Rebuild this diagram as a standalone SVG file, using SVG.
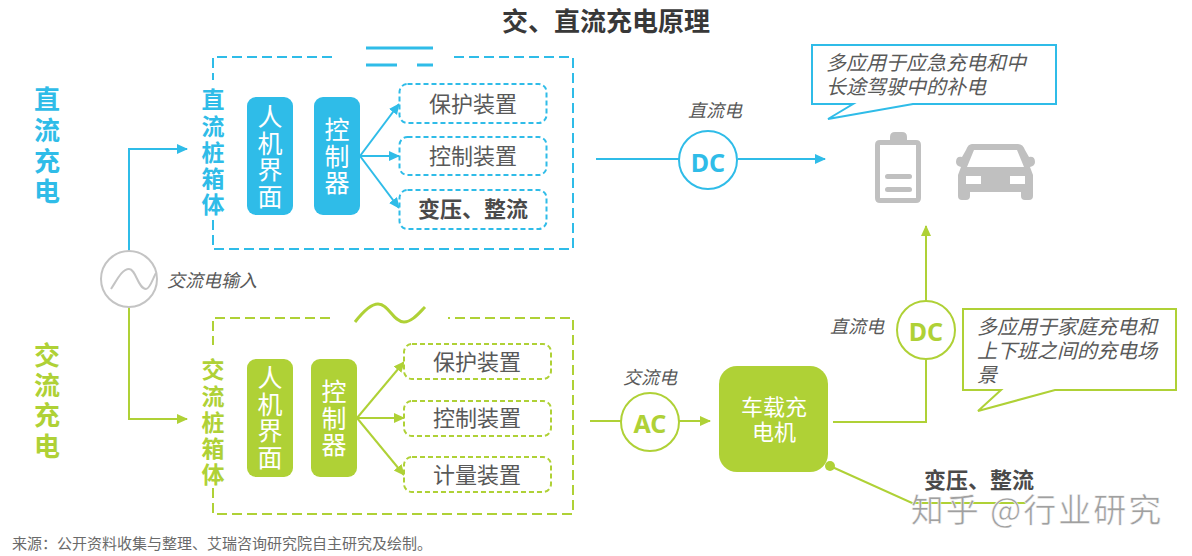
<svg xmlns="http://www.w3.org/2000/svg" width="1192" height="556" viewBox="0 0 1192 556">
<style>
text{font-family:"Noto Sans CJK SC","Noto Sans",sans-serif;dominant-baseline:central;text-anchor:middle}
.b{fill:#2fbce8}.g{fill:#afd136}
.side{font-size:26px;font-weight:700}
.sub{font-size:23px;font-weight:700}
.nt{font-size:25px;fill:#fff}
.lb{font-size:22px;fill:#595959}
.lbb{font-size:22px;fill:#4a4a4a;font-weight:700}
.it{font-size:18px;fill:#595959;font-style:italic}
.co{font-size:20px;fill:#595959;font-style:italic;text-anchor:start}
.bl{fill:none;stroke:#2fbce8;stroke-width:2}
.gl{fill:none;stroke:#afd136;stroke-width:2}
.bd{fill:#fff;stroke:#2fbce8;stroke-width:2;stroke-dasharray:5 3}
.gd{fill:#fff;stroke:#afd136;stroke-width:2;stroke-dasharray:5 3}
.cb{font-size:25px;font-weight:700;font-family:"Noto Sans",sans-serif}
</style>
<defs>
<marker id="ab" markerUnits="userSpaceOnUse" markerWidth="12" markerHeight="12" refX="10" refY="5" orient="auto"><path d="M0 0L11 5L0 10Z" fill="#2fbce8"/></marker>
<marker id="ag" markerUnits="userSpaceOnUse" markerWidth="12" markerHeight="12" refX="10" refY="5" orient="auto"><path d="M0 0L11 5L0 10Z" fill="#afd136"/></marker>
</defs>
<text x="606" y="19" font-size="26" font-weight="700" fill="#383838">交、直流充电原理</text>
<g id="label-dc"><text x="47 47 47 47" y="97 128 159 189" class="b side">直流充电</text></g>
<g id="label-ac"><text x="47 47 47 47" y="353 383 413 444" class="g side">交流充电</text></g>
<g id="connectors">
<path class="bl" d="M129 251V149H187" marker-end="url(#ab)"/>
<path class="gl" d="M129 307V419H187" marker-end="url(#ag)"/>
<path class="bl" d="M360 156L399 104" marker-end="url(#ab)"/>
<path class="bl" d="M360 156H399" marker-end="url(#ab)"/>
<path class="bl" d="M360 156L399 208" marker-end="url(#ab)"/>
<path class="gl" d="M357 418L404 362" marker-end="url(#ag)"/>
<path class="gl" d="M357 418H404" marker-end="url(#ag)"/>
<path class="gl" d="M357 418L404 475" marker-end="url(#ag)"/>
<path class="bl" d="M596 159H679M738 159H825" marker-end="url(#ab)"/>
<path class="gl" d="M590 421H621M679 421H710" marker-end="url(#ag)"/>
<path class="gl" d="M833 422H926V360M926 301V226" marker-end="url(#ag)"/>
<path class="gl" d="M830 466L912 503H1026"/>
<circle cx="830" cy="466" r="5" class="g"/>
</g>
<g id="dc-cabinet">
<path d="M332 57H213V80M213 220V249H573V57H452" fill="none" stroke="#2fbce8" stroke-width="2" stroke-dasharray="10 5"/>
<path d="M366 48H433" stroke="#2fbce8" stroke-width="3" fill="none"/>
<path d="M366 65H433" stroke="#2fbce8" stroke-width="3" fill="none" stroke-dasharray="31 20 16"/>
<text x="213 213 213 213 213" y="98 125 151 177 203" class="b sub">直流桩箱体</text>
</g>
<g id="dc-hmi"><rect x="247" y="97" width="46" height="118" rx="9" class="b"/><text x="270 270 270 270" y="115 142 168 195" class="nt">人机界面</text></g>
<g id="dc-ctrl"><rect x="314" y="97" width="46" height="118" rx="9" class="b"/><text x="337 337 337" y="128 155 181" class="nt">控制器</text></g>
<g id="dc-protect"><rect x="399.500" y="84" width="147" height="39" rx="8" class="bd"/><text x="473" y="102" class="lb">保护装置</text></g>
<g id="dc-control"><rect x="399.500" y="137" width="147" height="38" rx="8" class="bd"/><text x="473" y="154" class="lb">控制装置</text></g>
<g id="dc-rectify"><rect x="399.500" y="190" width="147" height="39" rx="8" class="bd"/><text x="473" y="207" class="lbb">变压、整流</text></g>
<g id="ac-cabinet">
<path d="M330 318H213V345M213 488V514H573V318H448" fill="none" stroke="#afd136" stroke-width="2" stroke-dasharray="10 5"/>
<path d="M355 322C362 313 370 304 378 304C389 304 393 322 404 322C412 322 419 313 425 307" fill="none" stroke="#afd136" stroke-width="3"/>
<text x="213 213 213 213 213" y="368 395 421 447 473" class="g sub">交流桩箱体</text>
</g>
<g id="ac-hmi"><rect x="247" y="359" width="46" height="118" rx="9" class="g"/><text x="270 270 270 270" y="376 403 429 456" class="nt">人机界面</text></g>
<g id="ac-ctrl"><rect x="311" y="359" width="46" height="118" rx="9" class="g"/><text x="334 334 334" y="390 417 443" class="nt">控制器</text></g>
<g id="ac-protect"><rect x="404" y="344" width="147" height="35" rx="8" class="gd"/><text x="477" y="360" class="lb">保护装置</text></g>
<g id="ac-control"><rect x="404" y="401" width="147" height="35" rx="8" class="gd"/><text x="477" y="416" class="lb">控制装置</text></g>
<g id="ac-meter"><rect x="404" y="457" width="147" height="35" rx="8" class="gd"/><text x="477" y="473" class="lb">计量装置</text></g>
<g id="ac-input">
<circle cx="129" cy="279" r="28" fill="#fff" stroke="#c4c4c4" stroke-width="2"/>
<path d="M111 289C117 280 122 269 129 269C136 269 138 289 146 289C150 289 153 278 156 273" fill="none" stroke="#c4c4c4" stroke-width="2"/>
<text x="212" y="279" class="it">交流电输入</text>
</g>
<g id="dc-out"><circle cx="708" cy="160" r="29" fill="#fff" stroke="#2fbce8" stroke-width="2"/><text x="708" y="162" class="b cb">DC</text><text x="715" y="109" class="it">直流电</text></g>
<g id="ac-out"><circle cx="650" cy="422" r="29" fill="#fff" stroke="#afd136" stroke-width="2"/><text x="650" y="423" class="g cb">AC</text><text x="650" y="376" class="it">交流电</text></g>
<g id="dc-car"><circle cx="926" cy="330" r="29" fill="#fff" stroke="#afd136" stroke-width="2"/><text x="926" y="331" class="g cb">DC</text><text x="857" y="325" class="it">直流电</text></g>
<g id="charger"><rect x="719" y="366" width="109" height="106" rx="18" class="g"/><text x="774" y="405" font-size="22" fill="#fff">车载充</text><text x="774" y="430" font-size="22" fill="#fff">电机</text></g>
<g id="callout-dc"><path d="M812 45H1056V104H913L828 119L853 104H812Z" fill="#fff" stroke="#2fbce8" stroke-width="2"/><text x="826" y="61" class="co">多应用于应急充电和中</text><text x="826" y="85" class="co">长途驾驶中的补电</text></g>
<g id="callout-ac"><path d="M963 309H1176V390H1055L978 411L1001 390H963Z" fill="#fff" stroke="#afd136" stroke-width="2"/><text x="977" y="325" class="co">多应用于家庭充电和</text><text x="977" y="349" class="co">上下班之间的充电场</text><text x="977" y="373" class="co">景</text></g>
<g id="battery" fill="#c0c0c0">
<path fill-rule="evenodd" d="M890 140V137Q890 132 895 132H902Q907 132 907 137V140H916Q921 140 921 145V198Q921 203 916 203H880Q875 203 875 198V145Q875 140 880 140ZM880 145V198H916V145Z"/>
<rect x="885" y="174" width="27" height="5" rx="2.500"/><rect x="885" y="187" width="27" height="5" rx="2.500"/>
</g>
<g id="car">
<path fill="#c0c0c0" fill-rule="evenodd" d="M972 144H1018Q1023 144 1025 150L1029 157Q1035 156 1035 162Q1035 166 1030 167L1033 175V196Q1033 200 1029 200H1025Q1021 200 1021 196V192H970V196Q970 200 966 200H962Q958 200 958 196V175L961 167Q956 166 956 162Q956 156 962 157L966 150Q968 144 972 144ZM974 150L967 167H1024L1017 150ZM966 176V184H981V176ZM1010 176V184H1025V176Z"/>
</g>
<text x="979" y="478" class="lbb">变压、整流</text>
<text x="12" y="542" font-size="15" fill="#6a6a6a" style="text-anchor:start">来源：公开资料收集与整理、艾瑞咨询研究院自主研究及绘制。</text>
<text x="1037" y="508" font-size="33" letter-spacing="2" fill="#a0a0a0" stroke="#fff" stroke-width="0.500">知乎 @行业研究</text>
</svg>
